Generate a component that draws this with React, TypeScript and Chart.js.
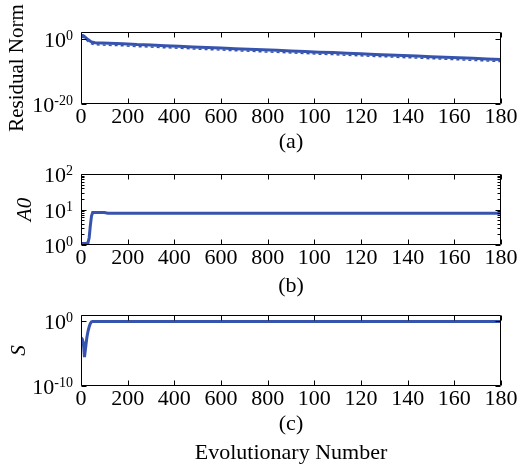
import React, { useEffect, useRef } from 'react';
import { Chart, registerables } from 'chart.js';

Chart.register(...registerables);

// ---------- data ----------
const xTickValues = [0, 200, 400, 600, 800, 1000, 1200, 1400, 1600, 1800];
const xTickLabels = ['0', '200', '400', '600', '800', '100', '120', '140', '160', '180'];

const residualIter = [0, 10, 20, 30, 40, 50, 60, 120, 180, 240, 300, 360, 420, 480, 540, 600, 660, 720, 780, 840, 900, 960, 1020, 1080, 1140, 1200, 1260, 1320, 1380, 1440, 1500, 1560, 1620, 1680, 1740, 1800];
const residualNorm = [10, 8, 2, 0.5, 0.15, 0.07, 0.05, 0.035, 0.025, 0.014, 0.01, 6.3e-3, 4.5e-3, 2.8e-3, 1.8e-3, 1.26e-3, 8e-4, 5.6e-4, 3.5e-4, 2.5e-4, 1.6e-4, 1.1e-4, 7e-5, 5e-5, 3.2e-5, 2.2e-5, 1.4e-5, 1e-5, 6.3e-6, 4.5e-6, 2.8e-6, 2e-6, 1.26e-6, 9e-7, 5.6e-7, 4e-7];

const a0Iter = [0, 10, 20, 30, 35, 40, 45, 50, 100, 115, 1800];
const a0Values = [1.1, 1.1, 1.1, 1.15, 1.6, 3.5, 6.5, 8.2, 8.2, 7.8, 7.8];

const sIter = [0, 5, 10, 15, 20, 25, 30, 35, 40, 45, 50, 1800];
const sValues = [3e-3, 2e-3, 5e-4, 3e-6, 1e-4, 3e-3, 3e-2, 0.15, 0.5, 0.9, 1, 1];

// y tick labels are written as base "10" with a superscript exponent
const aYTicks = [1e-20, 1];
const aYTickExps = ['-20', '0'];
const bYTicks = [1, 10, 100];
const bYTickExps = ['0', '1', '2'];
const bYMinor = [2, 3, 4, 5, 6, 7, 8, 9, 20, 30, 40, 50, 60, 70, 80, 90];
const cYTicks = [1e-10, 1];
const cYTickExps = ['-10', '0'];

// ---------- styling ----------
const FONT = "'Liberation Serif', 'Times New Roman', serif";
const LINE_COLOR = '#3654ae';

interface PanelCfg {
  height: number;
  padTop: number;
  axisH: number;
  xs: number[];
  ys: number[];
  dotted: boolean;
  yMin: number;
  yMax: number;
  yTicks: number[];
  yTickExps: string[];
  yMinor: number[];
  yTitle: string;
  yTitleItalic: boolean;
  yTitlePad: number;
  xTitle: string | string[];
  xTitlePad: number;
  xTitleLineHeight: number;
}

function makeChart(canvas: HTMLCanvasElement, cfg: PanelCfg) {
  const boxPlugin = {
    id: 'matlabBox',
    beforeDatasetDraw(chart: any, args: any) {
      if (args.index === 1) {
        chart.ctx.save();
        chart.ctx.translate(0, 2);
      }
    },
    afterDatasetDraw(chart: any, args: any) {
      if (args.index === 1) chart.ctx.restore();
    },
    afterDraw(chart: any) {
      const { ctx, chartArea } = chart;
      const { left, right, top, bottom } = chartArea;
      const xs = chart.scales.x;
      const ys = chart.scales.y;
      ctx.save();
      ctx.strokeStyle = '#000';
      ctx.lineWidth = 1;
      ctx.beginPath();
      const L = Math.round(left) + 0.5;
      const R = Math.round(right) - 0.5;
      const T = Math.round(top) + 0.5;
      const B = Math.round(bottom) - 0.5;
      ctx.rect(L, T, R - L, B - T);
      for (const v of xTickValues) {
        const px = Math.round(xs.getPixelForValue(v)) + 0.5;
        ctx.moveTo(px, B);
        ctx.lineTo(px, B - 5);
        ctx.moveTo(px, T);
        ctx.lineTo(px, T + 5);
      }
      for (const v of cfg.yTicks) {
        const py = Math.round(ys.getPixelForValue(v)) + 0.5;
        ctx.moveTo(L, py);
        ctx.lineTo(L + 5, py);
        ctx.moveTo(R, py);
        ctx.lineTo(R - 5, py);
      }
      for (const v of cfg.yMinor) {
        const py = Math.round(ys.getPixelForValue(v)) + 0.5;
        ctx.moveTo(L, py);
        ctx.lineTo(L + 3, py);
        ctx.moveTo(R, py);
        ctx.lineTo(R - 3, py);
      }
      ctx.stroke();

      // y tick labels: "10" with superscript exponent
      ctx.fillStyle = '#000';
      const expRight = left - 8;
      cfg.yTicks.forEach((v, i) => {
        const py = ys.getPixelForValue(v);
        const exp = cfg.yTickExps[i];
        ctx.font = `14px ${FONT}`;
        ctx.textAlign = 'right';
        ctx.textBaseline = 'alphabetic';
        const ew = ctx.measureText(exp).width;
        ctx.fillText(exp, expRight, py + 1);
        ctx.font = `22px ${FONT}`;
        ctx.fillText('10', expRight - ew, py + 8);
      });
      ctx.restore();
    },
  };

  const points = cfg.xs.map((x, i) => ({ x, y: cfg.ys[i] }));
  const datasets: any[] = [
    {
      data: points,
      borderColor: LINE_COLOR,
      backgroundColor: LINE_COLOR,
      borderWidth: 3,
      pointRadius: 0,
      tension: 0,
      fill: false,
    },
  ];
  if (cfg.dotted) {
    datasets.push({
      data: points,
      borderColor: LINE_COLOR,
      backgroundColor: LINE_COLOR,
      borderWidth: 1.5,
      borderDash: [3, 3],
      pointRadius: 0,
      tension: 0,
      fill: false,
    });
  }

  return new Chart(canvas, {
    type: 'line',
    data: { datasets },
    options: {
      responsive: false,
      animation: false,
      events: [],
      layout: { padding: { top: cfg.padTop, right: 18, left: 0, bottom: 0 } },
      plugins: { legend: { display: false }, tooltip: { enabled: false } },
      scales: {
        x: {
          type: 'linear',
          min: 0,
          max: 1800,
          grid: { display: false, drawTicks: false },
          border: { display: false },
          afterBuildTicks: (s: any) => {
            s.ticks = xTickValues.map((v) => ({ value: v }));
          },
          afterFit: (s: any) => {
            s.height = cfg.axisH;
          },
          ticks: {
            autoSkip: false,
            maxRotation: 0,
            padding: 0,
            color: '#000',
            font: { family: FONT, size: 22 },
            callback: (_v: any, i: number) => xTickLabels[i],
          },
          title: {
            display: true,
            text: cfg.xTitle,
            color: '#000',
            font: { family: FONT, size: 22, lineHeight: cfg.xTitleLineHeight },
            padding: { top: 0, bottom: cfg.xTitlePad },
          },
        },
        y: {
          type: 'logarithmic',
          min: cfg.yMin,
          max: cfg.yMax,
          grid: { display: false, drawTicks: false },
          border: { display: false },
          afterBuildTicks: (s: any) => {
            s.ticks = cfg.yTicks.map((v) => ({ value: v }));
          },
          afterFit: (s: any) => {
            s.width = 81;
          },
          ticks: { display: false },
          title: {
            display: true,
            text: cfg.yTitle,
            color: '#000',
            font: { family: FONT, size: 21, style: cfg.yTitleItalic ? 'italic' : 'normal' },
            padding: { top: cfg.yTitlePad, bottom: 0 },
          },
        },
      },
    },
    plugins: [boxPlugin],
  } as any);
}

const panels: { top: number; cfg: PanelCfg }[] = [
  {
    top: 0,
    cfg: {
      height: 160, padTop: 32, axisH: 56,
      xs: residualIter, ys: residualNorm, dotted: true,
      yMin: 1e-20, yMax: 100,
      yTicks: aYTicks, yTickExps: aYTickExps, yMinor: [],
      yTitle: 'Residual Norm', yTitleItalic: false, yTitlePad: 5,
      xTitle: '(a)', xTitlePad: 5, xTitleLineHeight: 1.2,
    },
  },
  {
    top: 160,
    cfg: {
      height: 145, padTop: 14, axisH: 60,
      xs: a0Iter, ys: a0Values, dotted: false,
      yMin: 1, yMax: 100,
      yTicks: bYTicks, yTickExps: bYTickExps, yMinor: bYMinor,
      yTitle: 'A0', yTitleItalic: true, yTitlePad: 13,
      xTitle: '(b)', xTitlePad: 6, xTitleLineHeight: 1.2,
    },
  },
  {
    top: 305,
    cfg: {
      height: 166, padTop: 10, axisH: 85,
      xs: sIter, ys: sValues, dotted: false,
      yMin: 1e-10, yMax: 10,
      yTicks: cYTicks, yTickExps: cYTickExps, yMinor: [],
      yTitle: 'S', yTitleItalic: true, yTitlePad: 7,
      xTitle: ['(c)', 'Evolutionary Number'], xTitlePad: 3.5, xTitleLineHeight: 1.318,
    },
  },
];

function Panel({ top, cfg }: { top: number; cfg: PanelCfg }) {
  const ref = useRef<HTMLCanvasElement>(null);
  useEffect(() => {
    if (!ref.current) return;
    const chart = makeChart(ref.current, cfg);
    return () => chart.destroy();
  }, []);
  return (
    <canvas
      ref={ref}
      width={519}
      height={cfg.height}
      style={{ position: 'absolute', left: 0, top, width: 519, height: cfg.height }}
    />
  );
}

export default function App() {
  return (
    <div style={{ position: 'absolute', left: 0, top: 0, width: 519, height: 471, background: '#fff', overflow: 'hidden' }}>
      {panels.map((p, i) => (
        <Panel key={i} top={p.top} cfg={p.cfg} />
      ))}
    </div>
  );
}
